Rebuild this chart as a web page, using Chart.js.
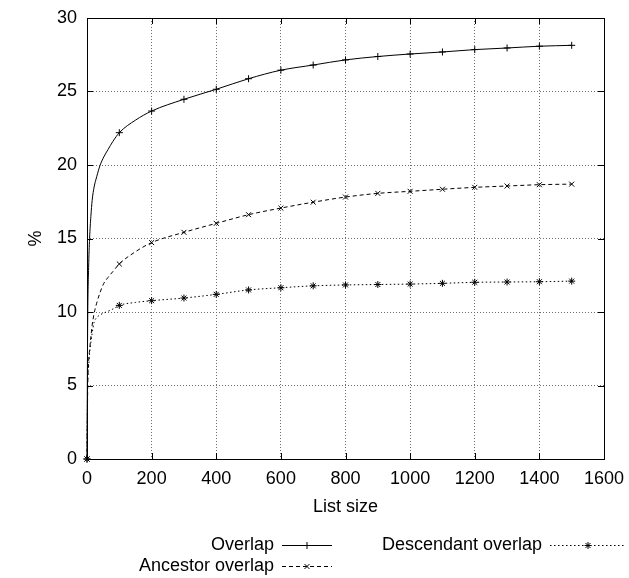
<!DOCTYPE html>
<html>
<head>
<meta charset="utf-8">
<script src="https://cdn.jsdelivr.net/npm/chart.js@4.4.0/dist/chart.umd.min.js"></script>
<style>
  html, body { margin: 0; padding: 0; background: #fff; }
</style>
</head>
<body>
<canvas id="chart" width="629" height="578"></canvas>
<script>
// =========================
// DATA
// =========================

const LIST_SIZES = [0, 2, 5, 8, 12, 16, 22, 30, 40, 52, 65, 80, 100, 150, 200,
  300, 400, 500, 600, 700, 800, 900, 1000, 1100, 1200, 1300, 1400, 1500];

const OVERLAP = [0, 9.0, 13.0, 15.0, 16.5, 17.6, 18.5, 19.2, 19.95, 20.55, 21.05, 21.6, 22.2, 23.05, 23.67,
  24.47, 25.15, 25.87, 26.45, 26.8, 27.15, 27.38, 27.55, 27.69, 27.85, 27.96, 28.08, 28.14];

const ANCESTOR_OVERLAP = [0, 4.5, 6.6, 7.4, 8.3, 9.1, 9.9, 10.6, 11.3, 11.95, 12.35, 12.75, 13.27, 14.1, 14.72,
  15.42, 16.03, 16.62, 17.07, 17.47, 17.82, 18.07, 18.21, 18.35, 18.48, 18.57, 18.66, 18.7];

const DESCENDANT_OVERLAP = [0, 5.3, 6.3, 7.2, 7.95, 8.55, 9.3, 9.62, 9.8, 9.93, 10.05, 10.2, 10.45, 10.65, 10.77,
  10.95, 11.2, 11.5, 11.65, 11.78, 11.84, 11.87, 11.9, 11.95, 12.02, 12.04, 12.06, 12.1];

const X_TICKS = [0, 200, 400, 600, 800, 1000, 1200, 1400, 1600];
const Y_TICKS = [0, 5, 10, 15, 20, 25, 30];

// =========================
// STYLE
// =========================

const FONT_FAMILY = "'Liberation Sans', Arial, Helvetica, sans-serif";
const FONT_SIZE = 18;
const GRID_COLOR = "#6e6e6e";

// key entries: text right edge, row centre, sample length
const KEY_POS = [
  { x: 274, y: 545, len: 50 },
  { x: 274, y: 566, len: 50 },
  { x: 542, y: 545, len: 76 },
];

function pairs(values) {
  return values.map((v, i) => ({ x: LIST_SIZES[i], y: v }));
}

function markerRadius(ctx) {
  const p = ctx.raw;
  return p && p.x % 100 === 0 ? 3.5 : 0;
}

function makeSeries(label, values, dash, style) {
  return {
    label,
    data: pairs(values),
    borderColor: "#000",
    backgroundColor: "#000",
    borderWidth: 1,
    borderDash: dash,
    pointStyle: style,
    pointRadius: markerRadius,
    pointBorderWidth: 1,
    pointBorderColor: "#000",
    pointHoverRadius: 0,
    cubicInterpolationMode: "monotone",
    fill: false,
    clip: 8,
  };
}

// =========================
// PLUGINS
// =========================

// plot border + inward tick marks, gnuplot style
const framePlugin = {
  id: "frame",
  beforeDatasetsDraw(chart) {
    const { ctx, chartArea: a, scales } = chart;
    ctx.save();
    ctx.strokeStyle = "#000";
    ctx.lineWidth = 1;
    ctx.setLineDash([]);
    ctx.beginPath();
    scales.x.ticks.forEach((t) => {
      const px = Math.round(scales.x.getPixelForValue(t.value)) + 0.5;
      ctx.moveTo(px, a.bottom); ctx.lineTo(px, a.bottom - 6);
      ctx.moveTo(px, a.top); ctx.lineTo(px, a.top + 6);
    });
    scales.y.ticks.forEach((t) => {
      const py = Math.round(scales.y.getPixelForValue(t.value)) + 0.5;
      ctx.moveTo(a.left, py); ctx.lineTo(a.left + 6, py);
      ctx.moveTo(a.right, py); ctx.lineTo(a.right - 6, py);
    });
    ctx.stroke();
    ctx.strokeRect(Math.round(a.left) + 0.5, Math.round(a.top) + 0.5,
      Math.round(a.right - a.left), Math.round(a.bottom - a.top));
    ctx.restore();
  },
};

const keyPlugin = {
  id: "gnuKey",
  afterDraw(chart) {
    const ctx = chart.ctx;
    ctx.save();
    ctx.font = `${FONT_SIZE}px ${FONT_FAMILY}`;
    ctx.textAlign = "right";
    ctx.textBaseline = "middle";
    ctx.fillStyle = "#000";
    ctx.strokeStyle = "#000";
    chart.data.datasets.forEach((ds, i) => {
      const pos = KEY_POS[i];
      ctx.fillText(ds.label, pos.x, pos.y);
      const x0 = pos.x + 8;
      ctx.lineWidth = 1;
      ctx.setLineDash(ds.borderDash || []);
      ctx.beginPath();
      ctx.moveTo(x0, pos.y + 0.5);
      ctx.lineTo(x0 + pos.len, pos.y + 0.5);
      ctx.stroke();
      ctx.setLineDash([]);
      Chart.helpers.drawPoint(ctx, { pointStyle: ds.pointStyle, radius: 3.5, borderWidth: 1, rotation: 0 },
        x0 + pos.len / 2, pos.y + 0.5);
    });
    ctx.restore();
  },
};

// =========================
// CHART
// =========================

const tickFont = { family: FONT_FAMILY, size: FONT_SIZE };

new Chart(document.getElementById("chart"), {
  type: "line",
  data: {
    datasets: [
      makeSeries("Overlap", OVERLAP, [], "cross"),
      makeSeries("Ancestor overlap", ANCESTOR_OVERLAP, [4, 3], "crossRot"),
      makeSeries("Descendant overlap", DESCENDANT_OVERLAP, [1.5, 2.5], "star"),
    ],
  },
  options: {
    responsive: false,
    animation: false,
    devicePixelRatio: 1,
    layout: { padding: { left: 0, right: 25, top: 18, bottom: 59 } },
    plugins: {
      legend: { display: false },
      tooltip: { enabled: false },
    },
    scales: {
      x: {
        type: "linear",
        min: 0,
        max: 1600,
        afterBuildTicks: (s) => { s.ticks = X_TICKS.map((v) => ({ value: v })); },
        afterFit: (s) => {
          s.height = 60;
          s.paddingLeft = 0;
          s.paddingRight = 0;
        },
        ticks: { font: tickFont, color: "#000", padding: 9, maxRotation: 0, callback: (v) => String(v) },
        grid: { color: GRID_COLOR, lineWidth: 1, drawTicks: false },
        border: { display: false, dash: [1, 2] },
        title: {
          display: true,
          text: "List size",
          font: tickFont,
          color: "#000",
          padding: { top: 0, bottom: 1 },
        },
      },
      y: {
        type: "linear",
        min: 0,
        max: 30,
        afterBuildTicks: (s) => { s.ticks = Y_TICKS.map((v) => ({ value: v })); },
        afterFit: (s) => {
          s.width = 87;
          s.paddingTop = 0;
          s.paddingBottom = 0;
        },
        ticks: { font: tickFont, color: "#000", padding: 10, callback: (v) => String(v) },
        grid: { color: GRID_COLOR, lineWidth: 1, drawTicks: false },
        border: { display: false, dash: [1, 2] },
        title: {
          display: true,
          text: "%",
          font: tickFont,
          color: "#000",
          padding: { top: 25, bottom: 0 },
        },
      },
    },
  },
  plugins: [framePlugin, keyPlugin],
});
</script>
</body>
</html>
